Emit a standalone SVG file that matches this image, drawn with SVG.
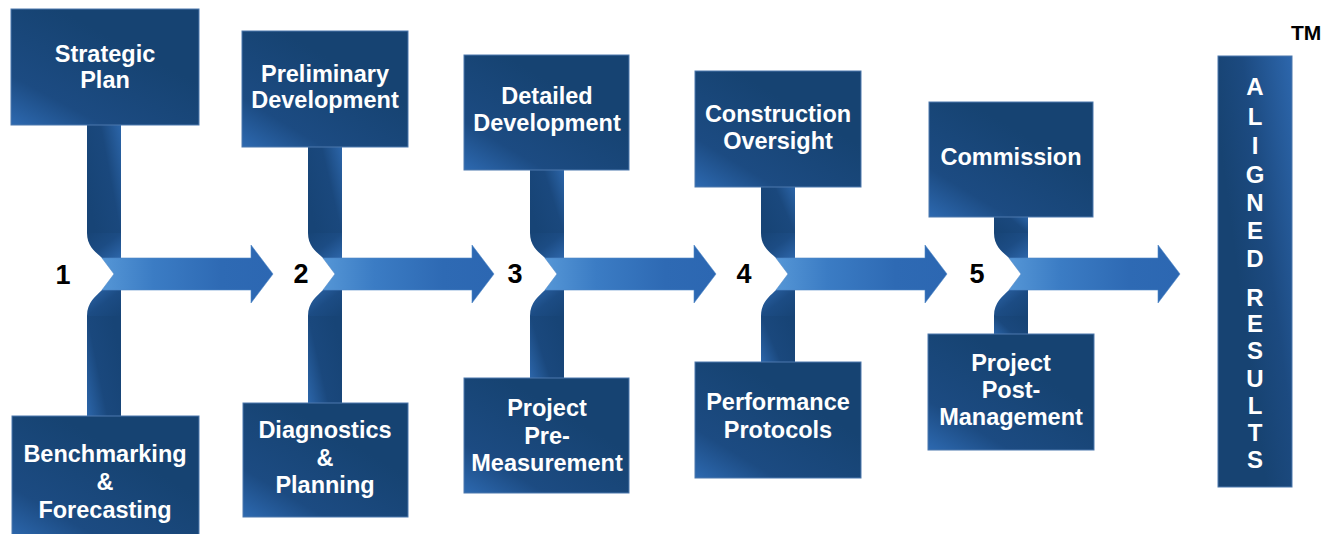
<svg xmlns="http://www.w3.org/2000/svg" width="1325" height="534" viewBox="0 0 1325 534">
<defs>
<linearGradient id="gBox" x1="0" y1="1" x2="0.6" y2="0.3">
<stop offset="0" stop-color="#2d69b0"/>
<stop offset="0.35" stop-color="#1c4b82"/>
<stop offset="1" stop-color="#164372"/>
</linearGradient>
<linearGradient id="gCol" x1="1" y1="0" x2="0.3" y2="0.55">
<stop offset="0" stop-color="#2d67ad"/>
<stop offset="0.6" stop-color="#1c4a80"/>
<stop offset="1" stop-color="#174372"/>
</linearGradient>
<linearGradient id="gBarTop" x1="1" y1="0" x2="0" y2="0.6">
<stop offset="0" stop-color="#2c66aa"/>
<stop offset="0.45" stop-color="#1a487d"/>
<stop offset="1" stop-color="#174476"/>
</linearGradient>
<linearGradient id="gBarBot" x1="0" y1="1" x2="1" y2="0.4">
<stop offset="0" stop-color="#2c66aa"/>
<stop offset="0.45" stop-color="#1a487d"/>
<stop offset="1" stop-color="#174476"/>
</linearGradient>
<linearGradient id="gCurveTop" x1="0" y1="0" x2="1" y2="1">
<stop offset="0" stop-color="#174476"/>
<stop offset="0.5" stop-color="#1c4c84"/>
<stop offset="1" stop-color="#2d66aa"/>
</linearGradient>
<linearGradient id="gCurveBot" x1="0" y1="0" x2="1" y2="1">
<stop offset="0" stop-color="#2d66aa"/>
<stop offset="0.5" stop-color="#1c4c84"/>
<stop offset="1" stop-color="#174476"/>
</linearGradient>
<linearGradient id="gArrow" x1="0" y1="0" x2="1" y2="0">
<stop offset="0" stop-color="#5596d6"/>
<stop offset="0.3" stop-color="#3b7cc4"/>
<stop offset="0.7" stop-color="#2e6ab4"/>
<stop offset="1" stop-color="#2c67b2"/>
</linearGradient>
</defs>
<style>
.box{fill:url(#gBox);stroke:#4d78ad;stroke-width:1}
.col{fill:url(#gCol);stroke:#4d78ad;stroke-width:1}
.bt{fill:url(#gBarTop)}
.bb{fill:url(#gBarBot)}
.ct{fill:url(#gCurveTop)}
.cb{fill:url(#gCurveBot)}
.arr{fill:url(#gArrow);stroke:#4f88c8;stroke-width:0.6}
.lbl{font-family:"Liberation Sans",Arial,sans-serif;font-weight:bold;font-size:23.5px;fill:#ffffff;text-anchor:middle}
.num{font-family:"Liberation Sans",Arial,sans-serif;font-weight:bold;font-size:27px;fill:#000000;text-anchor:middle}
.let{font-family:"Liberation Sans",Arial,sans-serif;font-weight:bold;font-size:24px;fill:#ffffff;text-anchor:middle}
.tm{font-family:"Liberation Sans",Arial,sans-serif;font-weight:bold;font-size:21px;fill:#000000}
</style>

<g id="connectors">
<rect class="bt" x="87" y="124" width="34" height="109"/>
<path class="ct" d="M87,233 L121,233 L121,258 L102,258 C96,252 87,247 87,233 Z"/>
<path class="cb" d="M102,290 L121,290 L121,316 L87,316 C87,302 96,296 102,290 Z"/>
<rect class="bb" x="87" y="316" width="34" height="101"/>
<path class="arr" d="M102,258 L251,258 L251,245 L273,274 L251,303 L251,290 L102,290 L114,274 Z"/>
<rect class="bt" x="308" y="146" width="34" height="87"/>
<path class="ct" d="M308,233 L342,233 L342,258 L323,258 C317,252 308,247 308,233 Z"/>
<path class="cb" d="M323,290 L342,290 L342,316 L308,316 C308,302 317,296 323,290 Z"/>
<rect class="bb" x="308" y="316" width="34" height="88"/>
<path class="arr" d="M323,258 L472,258 L472,245 L494,274 L472,303 L472,290 L323,290 L335,274 Z"/>
<rect class="bt" x="530" y="169" width="34" height="64"/>
<path class="ct" d="M530,233 L564,233 L564,258 L545,258 C539,252 530,247 530,233 Z"/>
<path class="cb" d="M545,290 L564,290 L564,316 L530,316 C530,302 539,296 545,290 Z"/>
<rect class="bb" x="530" y="316" width="34" height="63"/>
<path class="arr" d="M545,258 L694,258 L694,245 L716,274 L694,303 L694,290 L545,290 L557,274 Z"/>
<rect class="bt" x="761" y="186" width="34" height="47"/>
<path class="ct" d="M761,233 L795,233 L795,258 L776,258 C770,252 761,247 761,233 Z"/>
<path class="cb" d="M776,290 L795,290 L795,316 L761,316 C761,302 770,296 776,290 Z"/>
<rect class="bb" x="761" y="316" width="34" height="47"/>
<path class="arr" d="M776,258 L925,258 L925,245 L947,274 L925,303 L925,290 L776,290 L788,274 Z"/>
<rect class="bt" x="994" y="216" width="34" height="17"/>
<path class="ct" d="M994,233 L1028,233 L1028,258 L1009,258 C1003,252 994,247 994,233 Z"/>
<path class="cb" d="M1009,290 L1028,290 L1028,316 L994,316 C994,302 1003,296 1009,290 Z"/>
<rect class="bb" x="994" y="316" width="34" height="19"/>
<path class="arr" d="M1009,258 L1158,258 L1158,245 L1180,274 L1158,303 L1158,290 L1009,290 L1021,274 Z"/>
</g>

<g id="num1"><text class="num" x="63" y="284">1</text></g>
<g id="num2"><text class="num" x="301" y="283">2</text></g>
<g id="num3"><text class="num" x="515" y="283">3</text></g>
<g id="num4"><text class="num" x="744" y="283">4</text></g>
<g id="num5"><text class="num" x="977" y="283">5</text></g>

<g id="strategic-plan">
<rect class="box" x="11" y="9" width="188" height="116"/>
<text class="lbl" x="105" y="62">Strategic</text>
<text class="lbl" x="105" y="88">Plan</text>
</g>
<g id="benchmarking">
<rect class="box" x="12" y="416" width="187" height="125"/>
<text class="lbl" x="105" y="462">Benchmarking</text>
<text class="lbl" x="105" y="490">&amp;</text>
<text class="lbl" x="105" y="518">Forecasting</text>
</g>
<g id="preliminary-development">
<rect class="box" x="242" y="31" width="166" height="116"/>
<text class="lbl" x="325" y="82">Preliminary</text>
<text class="lbl" x="325" y="108">Development</text>
</g>
<g id="diagnostics-planning">
<rect class="box" x="243" y="403" width="165" height="114"/>
<text class="lbl" x="325" y="438">Diagnostics</text>
<text class="lbl" x="325" y="466">&amp;</text>
<text class="lbl" x="325" y="493">Planning</text>
</g>
<g id="detailed-development">
<rect class="box" x="464" y="55" width="165" height="115"/>
<text class="lbl" x="547" y="104">Detailed</text>
<text class="lbl" x="547" y="131">Development</text>
</g>
<g id="project-pre-measurement">
<rect class="box" x="464" y="378" width="165" height="115"/>
<text class="lbl" x="547" y="416">Project</text>
<text class="lbl" x="547" y="444">Pre-</text>
<text class="lbl" x="547" y="471">Measurement</text>
</g>
<g id="construction-oversight">
<rect class="box" x="695" y="71" width="166" height="116"/>
<text class="lbl" x="778" y="122">Construction</text>
<text class="lbl" x="778" y="149">Oversight</text>
</g>
<g id="performance-protocols">
<rect class="box" x="695" y="362" width="166" height="116"/>
<text class="lbl" x="778" y="410">Performance</text>
<text class="lbl" x="778" y="438">Protocols</text>
</g>
<g id="commission">
<rect class="box" x="929" y="102" width="164" height="115"/>
<text class="lbl" x="1011" y="165">Commission</text>
</g>
<g id="project-post-management">
<rect class="box" x="928" y="334" width="166" height="116"/>
<text class="lbl" x="1011" y="371">Project</text>
<text class="lbl" x="1011" y="398">Post-</text>
<text class="lbl" x="1011" y="425">Management</text>
</g>

<g id="aligned-results">
<rect class="col" x="1218" y="56" width="74" height="431"/>
<text class="let" x="1255" y="95">A</text>
<text class="let" x="1255" y="125">L</text>
<text class="let" x="1255" y="154">I</text>
<text class="let" x="1255" y="183">G</text>
<text class="let" x="1255" y="211">N</text>
<text class="let" x="1255" y="239">E</text>
<text class="let" x="1255" y="267">D</text>
<text class="let" x="1255" y="306">R</text>
<text class="let" x="1255" y="332">E</text>
<text class="let" x="1255" y="359">S</text>
<text class="let" x="1255" y="387">U</text>
<text class="let" x="1255" y="414">L</text>
<text class="let" x="1255" y="441">T</text>
<text class="let" x="1255" y="468">S</text>
</g>
<g id="trademark"><text class="tm" x="1291" y="40">TM</text></g>
</svg>
